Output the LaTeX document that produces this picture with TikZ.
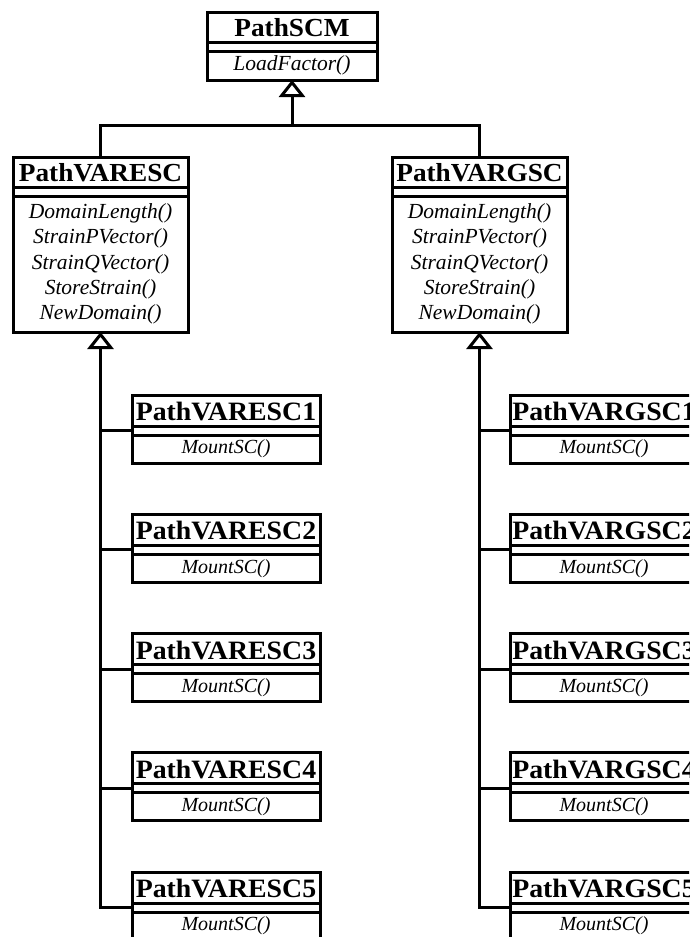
\documentclass[tikz,border=0pt]{standalone}
\usepackage{fontspec}
\setmainfont{Liberation Serif}
\newfontfamily\clsfont[FakeStretch=1.05]{Liberation Serif}
\usetikzlibrary{arrows.meta}

% One UML class: name, left x, top y, width, title / attribute / method
% compartment heights, class name, operations (lines separated by \\)
\newcommand\umlclass[9]{%
  \pgfmathsetmacro\clsH{#5+#6+#7}%
  \node[classbox, minimum width=#4pt, minimum height=\clsH pt, anchor=north west] (#1) at (#2,#3) {};
  \draw[classline] ([yshift=-#5pt]#1.north west) -- ([yshift=-#5pt]#1.north east);
  \draw[classline] ([yshift=-#5pt-#6pt]#1.north west) -- ([yshift=-#5pt-#6pt]#1.north east);
  \coordinate (#1-a) at ([yshift=-#5pt-#6pt/2]#1.north west);
  \node[titletext] (#1-t) at ([yshift=-#5pt/2-1pt]#1.north) {#8};
  \node[methodtext] (#1-m) at ([yshift=-#5pt-#6pt-#7pt/2]#1.north) {#9};
}

\tikzset{
  classbox/.style={draw=black, line width=3pt, fill=white, inner sep=0pt, outer sep=0pt},
  classline/.style={draw=black, line width=3pt},
  titletext/.style={inner sep=0pt, font=\clsfont\fontsize{26}{30}\selectfont\bfseries},
  methodtext/.style={inner sep=0pt, align=center, font=\fontsize{21.5}{25.25}\selectfont\itshape},
  conn/.style={draw=black, line width=3pt},
  inherit/.style={conn, -{Triangle[open, width=26pt, length=17pt]}},
}

\begin{document}
\begin{tikzpicture}[x=1pt, y=-1pt]
  \useasboundingbox (0,0) rectangle (689,937);
  \clip (0,0) rectangle (689,937);
  \fill[white] (0,0) rectangle (689,937);

  % base class and the two direct subclasses
  \umlclass{scm}{207}{12}{170}{30}{9}{29}{PathSCM}{LoadFactor()}
  \umlclass{esc}{13}{157}{175}{30}{9}{136}{PathVARESC}%
    {DomainLength()\\StrainPVector()\\StrainQVector()\\StoreStrain()\\NewDomain()}
  \umlclass{gsc}{392}{157}{175}{30}{9}{136}{PathVARGSC}%
    {DomainLength()\\StrainPVector()\\StrainQVector()\\StoreStrain()\\NewDomain()}

  % leaf classes
  \tikzset{
    titletext/.style={inner sep=0pt, font=\clsfont\fontsize{26.5}{30}\selectfont\bfseries},
    methodtext/.style={inner sep=0pt, align=center, font=\fontsize{20}{24}\selectfont\itshape},
  }
  \foreach \k in {1,...,5} {
    \pgfmathsetmacro\ytop{395+119.25*(\k-1)}
    \umlclass{esc\k}{132}{\ytop}{188}{31}{9}{28}{PathVARESC\k}{MountSC()}
    \umlclass{gsc\k}{510}{\ytop}{188}{31}{9}{28}{PathVARGSC\k}{MountSC()}
  }

  % generalisation to PathSCM
  \coordinate (bus) at (289,125);
  \draw[conn] (esc.north) -- (esc.north |- bus) -- (gsc.north |- bus) -- (gsc.north);
  \draw[inherit] (scm.south |- bus) -- (scm.south);

  % generalisation trunks to PathVARESC and PathVARGSC
  \draw[inherit] (esc5-a) -| (esc.south);
  \draw[inherit] (gsc5-a) -| (gsc.south);
  \foreach \k in {1,...,4} {
    \draw[conn] (esc\k-a) -- (esc\k-a -| esc.south);
    \draw[conn] (gsc\k-a) -- (gsc\k-a -| gsc.south);
  }
\end{tikzpicture}
\end{document}
